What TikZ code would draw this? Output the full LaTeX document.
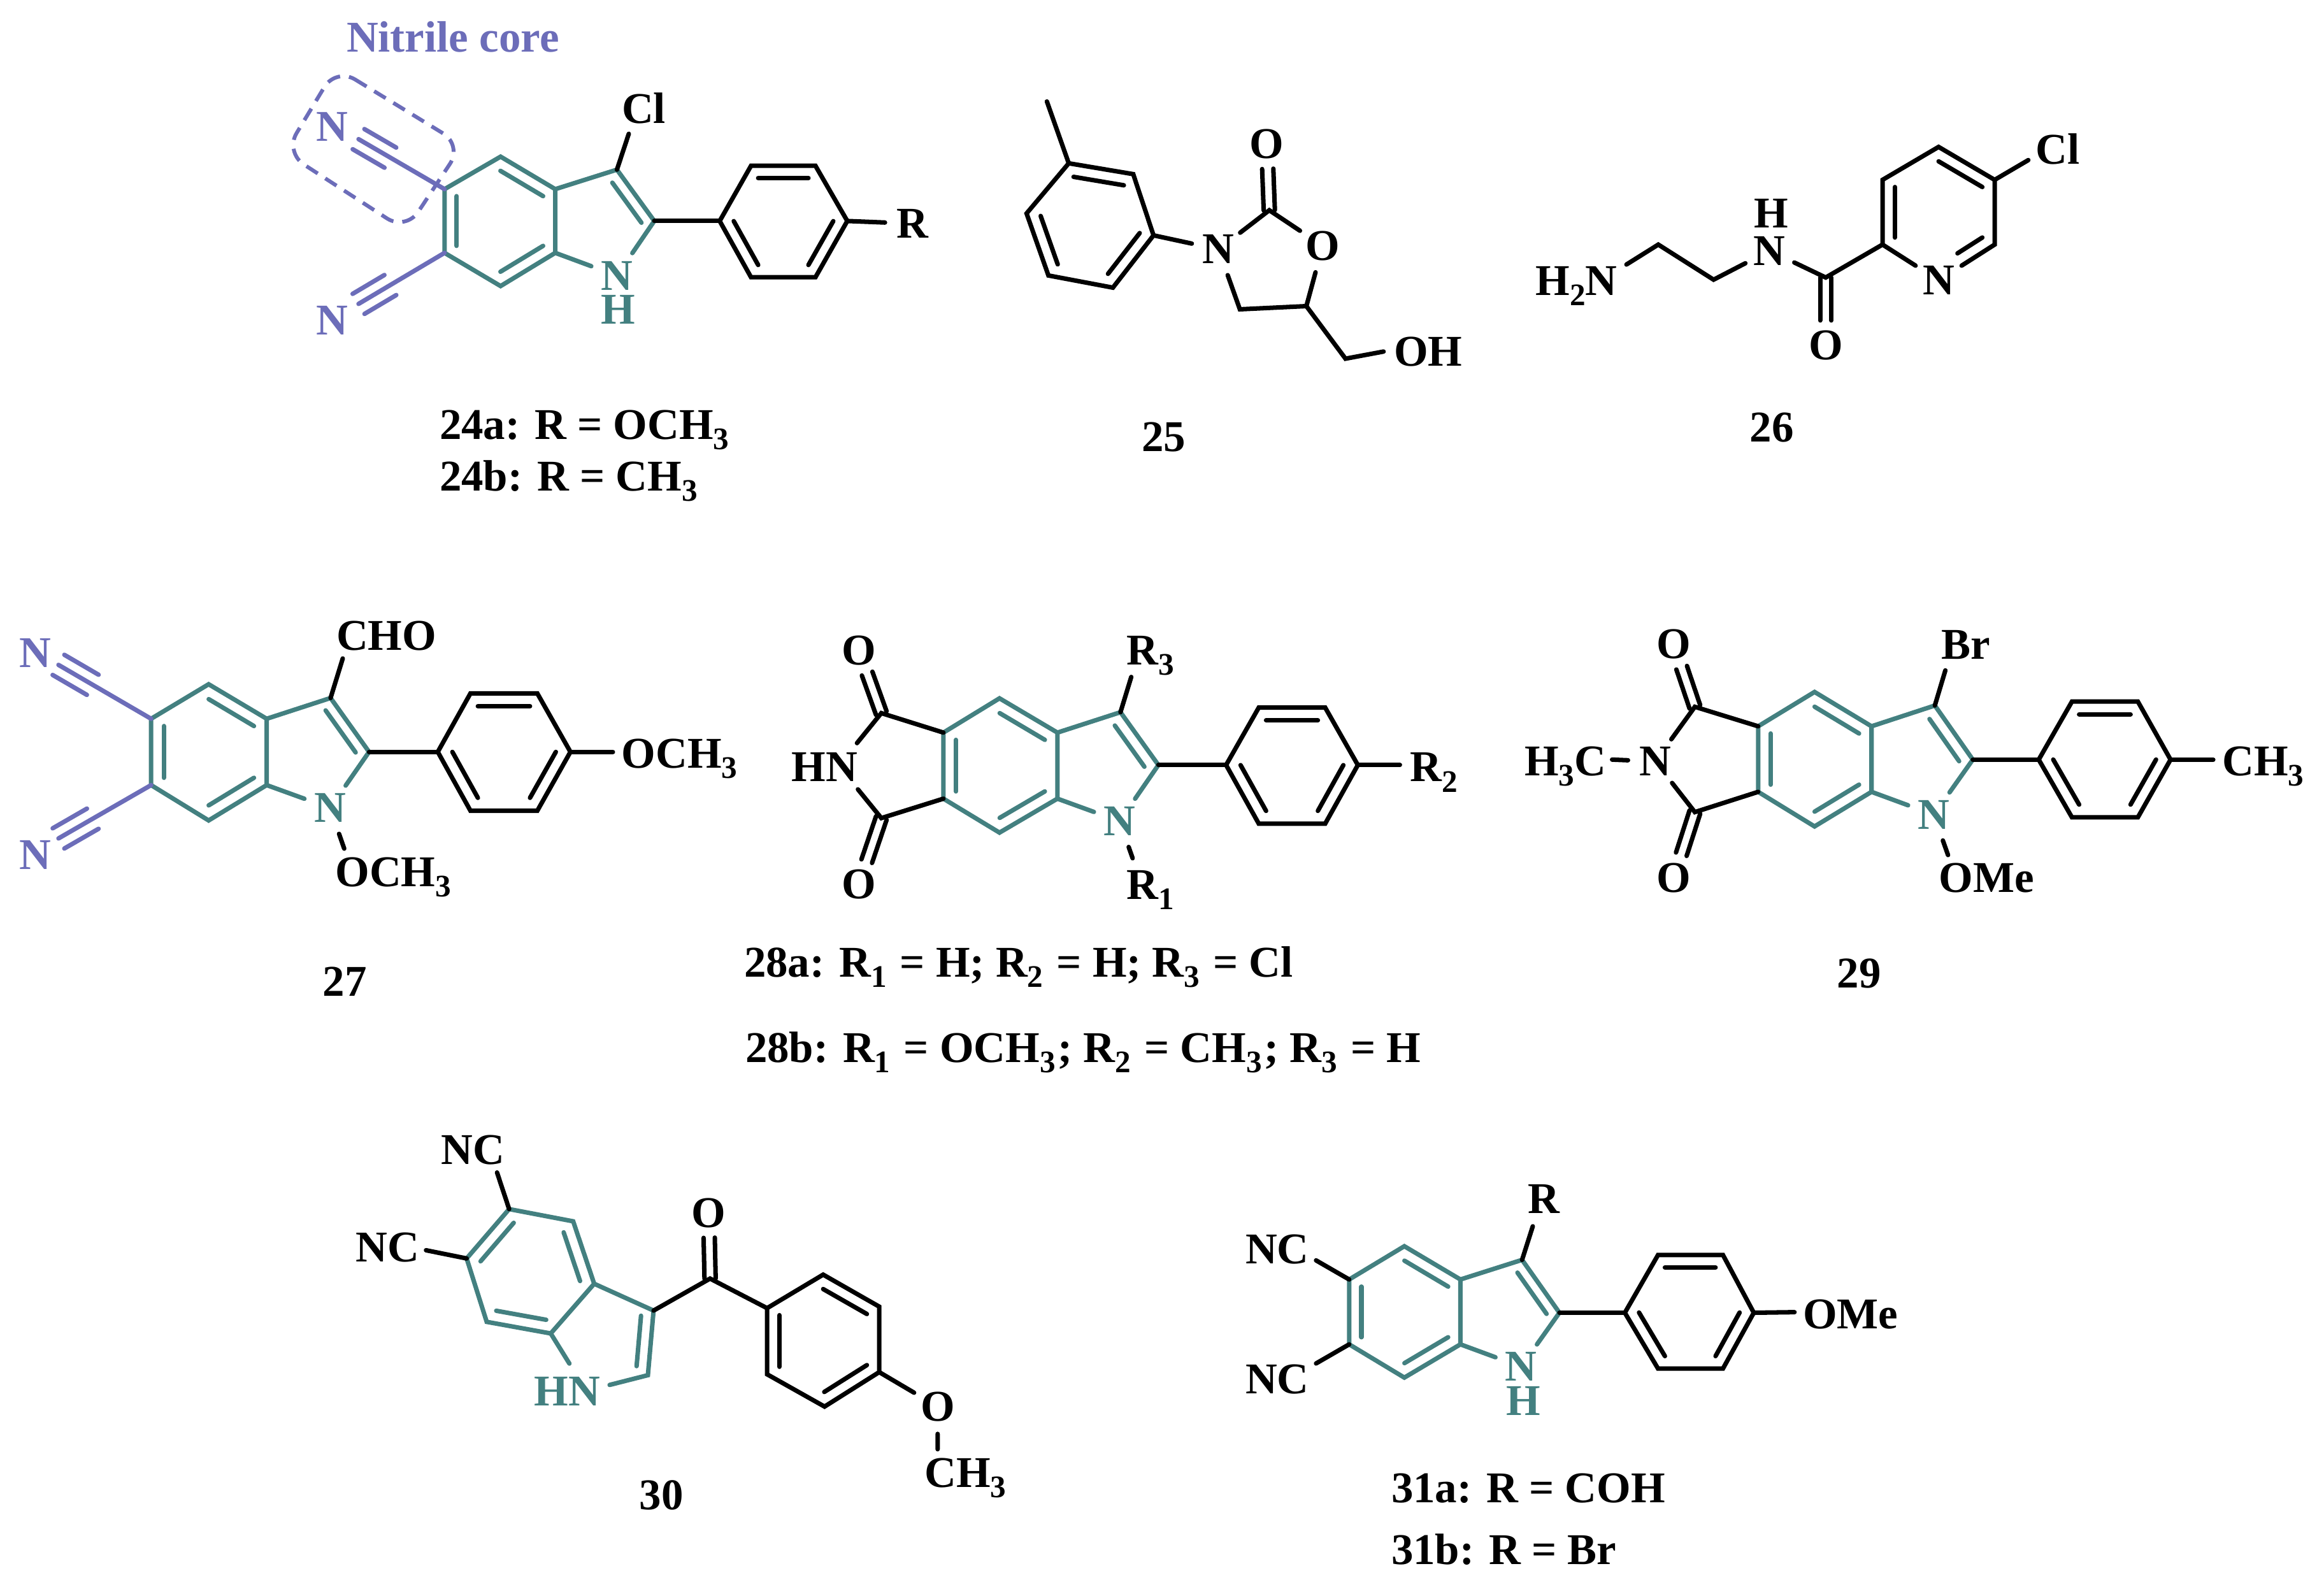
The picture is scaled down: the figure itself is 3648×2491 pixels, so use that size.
\documentclass[tikz,border=0pt]{standalone}
\usepackage{fontspec}
\setmainfont{Liberation Serif}
\usepackage{xcolor}
\usepackage{tikz}
\usetikzlibrary{calc}
\definecolor{coreteal}{HTML}{438080}
\definecolor{corepurple}{HTML}{6C6DB9}
\newcommand{\subn}[1]{\raisebox{-4.6pt}{\fontsize{14}{14}\selectfont #1}}
\newcommand{\subc}[1]{\subn{#1}\kern1.1pt\relax}
\tikzset{
  bond/.style={line width=2pt, line cap=round, black},
  tealbond/.style={bond, coreteal},
  nitbond/.style={bond, corepurple},
  corebox/.style={line width=1.7pt, corepurple, dash pattern=on 6pt off 4pt, rounded corners=10pt},
  labtext/.style={font=\fontsize{19.6}{22}\selectfont\bfseries},
  atom/.style={labtext, shape=circle, inner sep=0pt, minimum size=24pt},
  tealatom/.style={atom, text=coreteal},
  nitatom/.style={atom, text=corepurple},
  grp/.style={labtext, anchor=base west, inner sep=0pt, outer sep=0pt},
}
\newcommand{\inbond}[4]{\draw[#1] ($(#4)!0.78!(#2)$) -- ($(#4)!0.78!(#3)$);}
\newcommand{\twobond}[2]{
  \draw[bond, shorten >=11pt] ($(#1)!2.5pt!90:(#2)$) -- ($(#2)!2.5pt!-90:(#1)$);
  \draw[bond, shorten >=11pt] ($(#1)!2.5pt!-90:(#2)$) -- ($(#2)!2.5pt!90:(#1)$);
}
\newcommand{\cnbond}[2]{
  \draw[nitbond] (#1) -- (#2);
  \draw[nitbond] ($(#2)!5.2pt!90:(#1)$) -- ($(#2)!.37!(#1)!5.2pt!90:(#1)$);
  \draw[nitbond] ($(#2)!5.2pt!-90:(#1)$) -- ($(#2)!.37!(#1)!5.2pt!-90:(#1)$);
}
\begin{document}
\begin{tikzpicture}[x=0.01cm, y=-0.01cm]
  \useasboundingbox (0,0) rectangle (3648,2491);

  \begin{scope}[name prefix=m24-]
    \node[grp, text=corepurple] (title) at (544,82) {Nitrile core};
    \coordinate (c4) at (785.8,245.9);
    \coordinate (c3a) at (871.6,296.9);
    \coordinate (c7a) at (871.6,396.9);
    \coordinate (c7) at (785.8,449);
    \coordinate (c6) at (697.8,396.9);
    \coordinate (c5) at (697.8,296.9);
    \coordinate (c3) at (968.4,266.3);
    \coordinate (c2) at (1027,346.9);
    \coordinate (hexc) at (784.7,346.9);
    \coordinate (pyrc) at (935.4,359.2);
    \node[tealatom] (N) at (968.4,432.7) {N};
    \node[tealatom] (H) at (970.6,485.7) {H};
    \node[grp] (Cl) at (976,194) {Cl};
    \coordinate (clend) at (987,210);
    \coordinate (p1) at (1129.7,346.9);
    \coordinate (p2) at (1178.9,260.2);
    \coordinate (p3) at (1280,260.2);
    \coordinate (p4) at (1330,346.9);
    \coordinate (p5) at (1280,435.2);
    \coordinate (p6) at (1178.9,435.2);
    \coordinate (phc) at (1229.9,347.7);
    \node[atom] (R) at (1432,351) {R};
    \node[nitatom] (Na) at (521,199) {N};
    \node[nitatom] (Nb) at (521,502.5) {N};
    \coordinate (cna) at (562.8,218.4);
    \coordinate (cnb) at (562.8,477);
    \coordinate (boxa) at (527.4,106.4);
    \coordinate (boxb) at (725.7,227.8);
    \coordinate (boxc) at (637,362);
    \coordinate (boxd) at (447.4,239);
    \draw[tealbond] (c5) -- (c4) -- (c3a) -- (c7a) -- (c7) -- (c6) -- cycle;
    \draw[tealbond] (c3a) -- (c3) -- (c2) -- (N) -- (c7a);
    \inbond{tealbond}{c4}{c3a}{hexc}
    \inbond{tealbond}{c5}{c6}{hexc}
    \inbond{tealbond}{c7a}{c7}{hexc}
    \inbond{tealbond}{c3}{c2}{pyrc}
    \draw[bond] (c3) -- (clend);
    \draw[bond] (c2) -- (p1);
    \draw[bond] (p1) -- (p2) -- (p3) -- (p4) -- (p5) -- (p6) -- cycle;
    \inbond{bond}{p2}{p3}{phc}
    \inbond{bond}{p1}{p6}{phc}
    \inbond{bond}{p4}{p5}{phc}
    \draw[bond] (p4) -- (R);
    \cnbond{c5}{cna}
    \cnbond{c6}{cnb}
    \draw[corebox] (boxa) -- (boxb) -- (boxc) -- (boxd) -- cycle;
    \node[grp] (capa) at (690,689) {24a: R = OCH\subc{3}};
    \node[grp] (capb) at (690,770) {24b: R = CH\subc{3}};
  \end{scope}

  \begin{scope}[name prefix=m25-]
    \coordinate (me) at (1643.3,159.3);
    \coordinate (a1) at (1677.6,256.3);
    \coordinate (a2) at (1778.8,273.3);
    \coordinate (a3) at (1810.7,369.4);
    \coordinate (a4) at (1746.9,451.5);
    \coordinate (a5) at (1645.7,432.4);
    \coordinate (a6) at (1611.4,335);
    \coordinate (phc) at (1712,353);
    \node[atom] (N) at (1912.7,391.4) {N};
    \node[atom] (Oa) at (1988.5,226.4) {O};
    \node[atom] (Ob) at (2076.2,386) {O};
    \coordinate (cc) at (1992.4,330);
    \coordinate (c4) at (1946.2,485.5);
    \coordinate (c5) at (2050.6,480.5);
    \coordinate (ch) at (2112,563);
    \node[grp] (OH) at (2188,574) {OH};
    \coordinate (ohend) at (2171.8,551.8);
    \draw[bond] (me) -- (a1);
    \draw[bond] (a1) -- (a2) -- (a3) -- (a4) -- (a5) -- (a6) -- cycle;
    \inbond{bond}{a1}{a2}{phc}
    \inbond{bond}{a3}{a4}{phc}
    \inbond{bond}{a5}{a6}{phc}
    \draw[bond] (a3) -- (N);
    \draw[bond] (N) -- (cc) -- (Ob) -- (c5) -- (c4) -- (N);
    \twobond{cc}{Oa}
    \draw[bond] (c5) -- (ch) -- (ohend);
    \node[grp] (cap) at (1792,708.5) {25};
  \end{scope}

  \begin{scope}[name prefix=m26-]
    \node[grp] (NHb) at (2410.5,463) {H\subn{2}N};
    \coordinate (e1) at (2553,415.2);
    \coordinate (e2) at (2603,383.9);
    \coordinate (e3) at (2689.8,439);
    \node[atom] (N) at (2777.8,393.5) {N};
    \node[atom] (H) at (2780.1,335) {H};
    \coordinate (cc) at (2865.8,435.6);
    \node[atom] (O) at (2865.8,541.6) {O};
    \coordinate (r1) at (2955,383.9);
    \coordinate (r2) at (2955,282.3);
    \coordinate (r3) at (3043,230.6);
    \coordinate (r4) at (3131,282.3);
    \coordinate (r5) at (3131,383.9);
    \node[atom] (Np) at (3043,440) {N};
    \coordinate (ctr) at (3043,333.5);
    \node[grp] (Cl) at (3195.5,257.5) {Cl};
    \coordinate (clend) at (3183.8,251.3);
    \draw[bond] (e1) -- (e2) -- (e3) -- (N) -- (cc) -- (r1);
    \twobond{cc}{O}
    \draw[bond] (Np) -- (r1) -- (r2) -- (r3) -- (r4) -- (r5) -- (Np);
    \inbond{bond}{r1}{r2}{ctr}
    \inbond{bond}{r3}{r4}{ctr}
    \inbond{bond, shorten >=10pt}{r5}{Np}{ctr}
    \draw[bond] (r4) -- (clend);
    \node[grp] (cap) at (2746.7,693.2) {26};
  \end{scope}

  \begin{scope}[name prefix=m27-]
    \coordinate (c4) at (327.5,1074);
    \coordinate (c3a) at (418.6,1128.2);
    \coordinate (c7a) at (418.6,1232.3);
    \coordinate (c7) at (327.5,1287.8);
    \coordinate (c6) at (237.2,1232.3);
    \coordinate (c5) at (237.2,1128.2);
    \coordinate (hexc) at (327.9,1180.2);
    \coordinate (c3) at (518.9,1095.6);
    \coordinate (c2) at (579.3,1180.2);
    \coordinate (pyrc) at (483.7,1184.1);
    \node[tealatom] (N) at (518.1,1268.3) {N};
    \node[grp] (CHO) at (528,1020.6) {CHO};
    \coordinate (choend) at (538,1033.6);
    \node[grp] (OMea) at (526.5,1391.4) {OCH\subn{3}};
    \coordinate (omeaend) at (540.3,1332);
    \coordinate (p1) at (687.2,1180.2);
    \coordinate (p2) at (738.5,1088.3);
    \coordinate (p3) at (843.4,1088.3);
    \coordinate (p4) at (895.4,1180.2);
    \coordinate (p5) at (843.4,1272.6);
    \coordinate (p6) at (738.5,1272.6);
    \coordinate (phc) at (791.3,1180.3);
    \node[grp] (OMeb) at (975.7,1205.4) {OCH\subn{3}};
    \coordinate (omebend) at (962,1180.2);
    \node[nitatom] (Na) at (55.1,1025.4) {N};
    \node[nitatom] (Nb) at (55.1,1341.6) {N};
    \coordinate (cna) at (91.8,1043.6);
    \coordinate (cnb) at (91.8,1316);
    \draw[tealbond] (c5) -- (c4) -- (c3a) -- (c7a) -- (c7) -- (c6) -- cycle;
    \draw[tealbond] (c3a) -- (c3) -- (c2) -- (N) -- (c7a);
    \inbond{tealbond}{c4}{c3a}{hexc}
    \inbond{tealbond}{c5}{c6}{hexc}
    \inbond{tealbond}{c7a}{c7}{hexc}
    \inbond{tealbond}{c3}{c2}{pyrc}
    \draw[bond] (c3) -- (choend);
    \draw[bond] (N) -- (omeaend);
    \draw[bond] (c2) -- (p1);
    \draw[bond] (p1) -- (p2) -- (p3) -- (p4) -- (p5) -- (p6) -- cycle;
    \inbond{bond}{p2}{p3}{phc}
    \inbond{bond}{p1}{p6}{phc}
    \inbond{bond}{p4}{p5}{phc}
    \draw[bond] (p4) -- (omebend);
    \cnbond{c5}{cna}
    \cnbond{c6}{cnb}
    \node[grp] (cap) at (506.6,1563.2) {27};
  \end{scope}

  \begin{scope}[name prefix=m28-]
    \coordinate (c4) at (1568.9,1096.1);
    \coordinate (c3a) at (1659.8,1149.9);
    \coordinate (c7a) at (1659.8,1253.6);
    \coordinate (c7) at (1568.9,1306.9);
    \coordinate (c6) at (1480.9,1253.6);
    \coordinate (c5) at (1480.9,1149.9);
    \coordinate (hexc) at (1570.3,1201.7);
    \coordinate (c3) at (1758.8,1117.9);
    \coordinate (c2) at (1818.3,1200.8);
    \coordinate (pyrc) at (1718.5,1212.9);
    \node[tealatom] (N) at (1757.4,1289) {N};
    \node[grp] (Ra) at (1768.4,1411.1) {R\subn{1}};
    \coordinate (raend) at (1777.9,1347.1);
    \node[grp] (Rc) at (1768.4,1043.2) {R\subn{3}};
    \coordinate (rcend) at (1775.7,1062.6);
    \coordinate (p1) at (1924.6,1200.8);
    \coordinate (p2) at (1975.9,1110.6);
    \coordinate (p3) at (2080.1,1110.6);
    \coordinate (p4) at (2131.4,1200.8);
    \coordinate (p5) at (2080.1,1292.9);
    \coordinate (p6) at (1975.9,1292.9);
    \coordinate (phc) at (2028,1201.5);
    \node[grp] (Rb) at (2213.5,1226.9) {R\subn{2}};
    \coordinate (rbend) at (2197.4,1200.8);
    \coordinate (ca) at (1383.4,1119.3);
    \coordinate (cb) at (1383.4,1284.1);
    \node[grp] (HN) at (1242.5,1226.9) {HN};
    \coordinate (hna) at (1345.2,1166.4);
    \coordinate (hnb) at (1346.7,1239);
    \node[atom] (Oa) at (1348.1,1020.9) {O};
    \node[atom] (Ob) at (1348.1,1388.3) {O};
    \draw[tealbond] (c5) -- (c4) -- (c3a) -- (c7a) -- (c7) -- (c6) -- cycle;
    \draw[tealbond] (c3a) -- (c3) -- (c2) -- (N) -- (c7a);
    \inbond{tealbond}{c4}{c3a}{hexc}
    \inbond{tealbond}{c5}{c6}{hexc}
    \inbond{tealbond}{c7a}{c7}{hexc}
    \inbond{tealbond}{c3}{c2}{pyrc}
    \draw[bond] (c3) -- (rcend);
    \draw[bond] (N) -- (raend);
    \draw[bond] (c2) -- (p1);
    \draw[bond] (p1) -- (p2) -- (p3) -- (p4) -- (p5) -- (p6) -- cycle;
    \inbond{bond}{p2}{p3}{phc}
    \inbond{bond}{p1}{p6}{phc}
    \inbond{bond}{p4}{p5}{phc}
    \draw[bond] (p4) -- (rbend);
    \draw[bond] (hna) -- (ca) -- (c5);
    \draw[bond] (hnb) -- (cb) -- (c6);
    \twobond{ca}{Oa}
    \twobond{cb}{Ob}
    \node[grp] (capa) at (1168,1533) {28a: R\subc{1} = H; R\subc{2} = H; R\subc{3} = Cl};
    \node[grp] (capb) at (1170,1667) {28b: R\subc{1} = OCH\subc{3}; R\subc{2} = CH\subc{3}; R\subc{3} = H};
  \end{scope}

  \begin{scope}[name prefix=m29-]
    \coordinate (c4) at (2848.3,1086.1);
    \coordinate (c3a) at (2937.7,1140);
    \coordinate (c7a) at (2937.7,1242.9);
    \coordinate (c7) at (2848.3,1297.2);
    \coordinate (c6) at (2759.8,1242.9);
    \coordinate (c5) at (2759.8,1140);
    \coordinate (hexc) at (2848.7,1191.5);
    \coordinate (c3) at (3037.1,1107.4);
    \coordinate (c2) at (3096.7,1192.3);
    \coordinate (pyrc) at (2999,1203.7);
    \node[tealatom] (N) at (3035.4,1278.8) {N};
    \node[grp] (OMe) at (3043.7,1400.5) {OMe};
    \coordinate (omeend) at (3057.8,1342.1);
    \node[grp] (Br) at (3047.8,1034.7) {Br};
    \coordinate (brend) at (3053.6,1052.3);
    \coordinate (p1) at (3200.2,1192.3);
    \coordinate (p2) at (3252.3,1101.2);
    \coordinate (p3) at (3355.8,1101.2);
    \coordinate (p4) at (3407.1,1192.3);
    \coordinate (p5) at (3355.8,1282.9);
    \coordinate (p6) at (3252.3,1282.9);
    \coordinate (phc) at (3303.6,1192);
    \node[grp] (CHb) at (3488.2,1217.6) {CH\subn{3}};
    \coordinate (chend) at (3474.1,1192.3);
    \coordinate (ca) at (2660.4,1109.4);
    \coordinate (cb) at (2660.4,1274.7);
    \node[atom] (Ni) at (2598.3,1195.1) {N};
    \node[grp] (CHa) at (2393,1217.6) {H\subn{3}C};
    \coordinate (chaend) at (2530.5,1192.3);
    \node[atom] (Oa) at (2627.3,1011.4) {O};
    \node[atom] (Ob) at (2627.3,1377.6) {O};
    \draw[tealbond] (c5) -- (c4) -- (c3a) -- (c7a) -- (c7) -- (c6) -- cycle;
    \draw[tealbond] (c3a) -- (c3) -- (c2) -- (N) -- (c7a);
    \inbond{tealbond}{c4}{c3a}{hexc}
    \inbond{tealbond}{c5}{c6}{hexc}
    \inbond{tealbond}{c7a}{c7}{hexc}
    \inbond{tealbond}{c3}{c2}{pyrc}
    \draw[bond] (c3) -- (brend);
    \draw[bond] (N) -- (omeend);
    \draw[bond] (c2) -- (p1);
    \draw[bond] (p1) -- (p2) -- (p3) -- (p4) -- (p5) -- (p6) -- cycle;
    \inbond{bond}{p2}{p3}{phc}
    \inbond{bond}{p1}{p6}{phc}
    \inbond{bond}{p4}{p5}{phc}
    \draw[bond] (p4) -- (chend);
    \draw[bond] (Ni) -- (ca) -- (c5);
    \draw[bond] (Ni) -- (cb) -- (c6);
    \draw[bond] (chaend) -- (Ni);
    \twobond{ca}{Oa}
    \twobond{cb}{Ob}
    \node[grp] (cap) at (2883.9,1550.3) {29};
  \end{scope}

  \begin{scope}[name prefix=m30-]
    \coordinate (c5) at (799.2,1897.8);
    \coordinate (c4) at (899.7,1917);
    \coordinate (c3a) at (932.7,2015);
    \coordinate (c7a) at (864.5,2093);
    \coordinate (c7) at (764,2074.8);
    \coordinate (c6) at (732.5,1975.3);
    \coordinate (hexc) at (831.9,1995.6);
    \coordinate (c3) at (1025.9,2057.1);
    \coordinate (c2) at (1017,2158.5);
    \coordinate (pyrc) at (936.4,2093.9);
    \node[grp, text=coreteal] (HN) at (838.8,2206.3) {HN};
    \coordinate (hna) at (893.8,2140.3);
    \coordinate (hnb) at (956.9,2173.8);
    \coordinate (cc) at (1114.6,2006.9);
    \node[atom] (O) at (1112.4,1904.1) {O};
    \coordinate (p1) at (1204.1,2053.3);
    \coordinate (p2) at (1292.1,2000.7);
    \coordinate (p3) at (1380.1,2050.9);
    \coordinate (p4) at (1380.1,2153.7);
    \coordinate (p5) at (1294.3,2207.8);
    \coordinate (p6) at (1204.1,2157.1);
    \coordinate (phc) at (1292.1,2103.5);
    \node[atom] (Om) at (1471.8,2207.8) {O};
    \node[grp] (CHm) at (1451.3,2334.5) {CH\subn{3}};
    \coordinate (chend) at (1471.8,2274.7);
    \node[grp] (NCa) at (692.9,1827) {NC};
    \coordinate (nca) at (780.2,1840.4);
    \node[grp] (NCb) at (558.7,1980.6) {NC};
    \coordinate (ncb) at (668.7,1962.4);
    \draw[tealbond] (c5) -- (c4) -- (c3a) -- (c7a) -- (c7) -- (c6) -- cycle;
    \draw[tealbond] (c3a) -- (c3) -- (c2) -- (hnb);
    \draw[tealbond] (c7a) -- (hna);
    \inbond{tealbond}{c4}{c3a}{hexc}
    \inbond{tealbond}{c5}{c6}{hexc}
    \inbond{tealbond}{c7a}{c7}{hexc}
    \inbond{tealbond}{c3}{c2}{pyrc}
    \draw[bond] (c3) -- (cc) -- (p1);
    \twobond{cc}{O}
    \draw[bond] (p1) -- (p2) -- (p3) -- (p4) -- (p5) -- (p6) -- cycle;
    \inbond{bond}{p2}{p3}{phc}
    \inbond{bond}{p1}{p6}{phc}
    \inbond{bond}{p4}{p5}{phc}
    \draw[bond] (p4) -- (Om) -- (chend);
    \draw[bond] (c5) -- (nca);
    \draw[bond] (c6) -- (ncb);
    \node[grp] (cap) at (1003.8,2369) {30};
  \end{scope}

  \begin{scope}[name prefix=m31-]
    \coordinate (c4) at (2204.4,1956.1);
    \coordinate (c3a) at (2292.4,2008.3);
    \coordinate (c7a) at (2292.4,2110.1);
    \coordinate (c7) at (2204.4,2162.3);
    \coordinate (c6) at (2117.8,2110.1);
    \coordinate (c5) at (2117.8,2008.3);
    \coordinate (hexc) at (2205,2059.2);
    \coordinate (c3) at (2389.2,1977.5);
    \coordinate (c2) at (2447.8,2060.5);
    \coordinate (pyrc) at (2356.2,2068.6);
    \node[tealatom] (N) at (2387.7,2145.2) {N};
    \node[tealatom] (H) at (2391.4,2198.7) {H};
    \node[grp] (R) at (2398.7,1904.7) {R};
    \coordinate (rend) at (2406,1924.8);
    \coordinate (p1) at (2550.5,2060.5);
    \coordinate (p2) at (2602.6,1969.8);
    \coordinate (p3) at (2704.5,1969.8);
    \coordinate (p4) at (2752.9,2060.5);
    \coordinate (p5) at (2704.5,2148.2);
    \coordinate (p6) at (2602.6,2148.2);
    \coordinate (phc) at (2651.7,2059);
    \node[grp] (OMe) at (2830,2085.3) {OMe};
    \coordinate (omeend) at (2816.8,2059.6);
    \node[grp] (NCa) at (1955,1983.5) {NC};
    \coordinate (nca) at (2065.8,1978.3);
    \node[grp] (NCb) at (1955,2187.1) {NC};
    \coordinate (ncb) at (2065.8,2140.1);
    \draw[tealbond] (c5) -- (c4) -- (c3a) -- (c7a) -- (c7) -- (c6) -- cycle;
    \draw[tealbond] (c3a) -- (c3) -- (c2) -- (N) -- (c7a);
    \inbond{tealbond}{c4}{c3a}{hexc}
    \inbond{tealbond}{c5}{c6}{hexc}
    \inbond{tealbond}{c7a}{c7}{hexc}
    \inbond{tealbond}{c3}{c2}{pyrc}
    \draw[bond] (c3) -- (rend);
    \draw[bond] (c2) -- (p1);
    \draw[bond] (p1) -- (p2) -- (p3) -- (p4) -- (p5) -- (p6) -- cycle;
    \inbond{bond}{p2}{p3}{phc}
    \inbond{bond}{p1}{p6}{phc}
    \inbond{bond}{p4}{p5}{phc}
    \draw[bond] (p4) -- (omeend);
    \draw[bond] (c5) -- (nca);
    \draw[bond] (c6) -- (ncb);
    \node[grp] (capa) at (2184,2358) {31a: R = COH};
    \node[grp] (capb) at (2184,2455.4) {31b: R = Br};
  \end{scope}
\end{tikzpicture}
\end{document}
